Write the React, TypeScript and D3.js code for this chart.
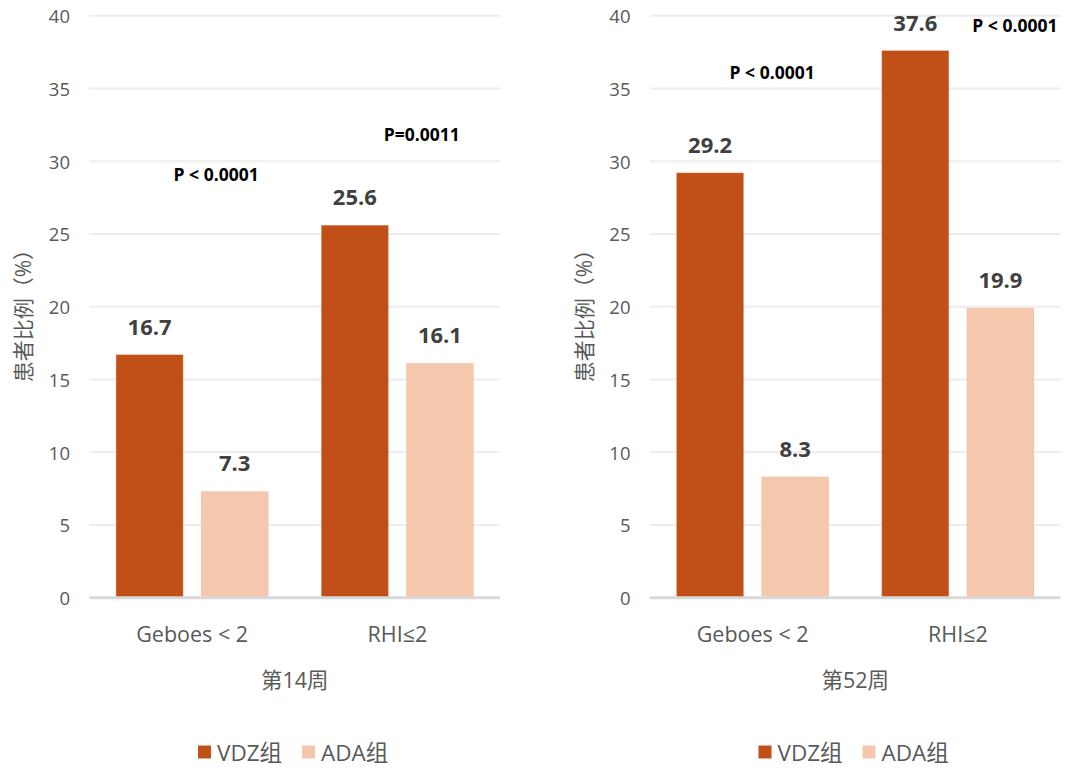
import React from 'react';
import * as d3 from 'd3';

const categories = ['Geboes < 2', 'RHI≤2'];
const seriesNames = ['VDZ组', 'ADA组'];
const seriesColors = ['#C05017', '#F5C7AD'];

const week14VDZ = [16.7, 25.6];
const week14ADA = [7.3, 16.1];
const week52VDZ = [29.2, 37.6];
const week52ADA = [8.3, 19.9];

const week14P = ['P < 0.0001', 'P=0.0011'];
const week52P = ['P < 0.0001', 'P < 0.0001'];
// P label height in data units
const week14PLevel = [29.1, 31.9];
const week52PLevel = [36.15, 39.36];

const yTickCount = 8;

const W = 1080;
const H = 768;
const FONT = '"Open Sans", "Noto Sans CJK SC", sans-serif';

interface PanelProps {
  dx: number;
  title: string;
  vdz: number[];
  ada: number[];
  pText: string[];
  pLevel: number[];
  pShift: number[];
}

const Panel: React.FC<PanelProps> = ({ dx, title, vdz, ada, pText, pLevel, pShift }) => {
  const left = 89.5;
  const right = 500;
  const top = 15.7;
  const bottom = 597.7;

  const y = d3.scaleLinear().domain([0, 40]).range([bottom, top]);
  const x0 = d3.scaleBand().domain(categories).range([left, right]).padding(0);
  const x1 = d3.scaleBand()
    .domain(seriesNames)
    .range([0, x0.bandwidth()])
    .paddingInner(0.212)
    .paddingOuter(0.312);

  const values = [vdz, ada];
  const ticks = y.ticks(yTickCount);

  return (
    <g transform={`translate(${dx},0)`} fontFamily={FONT}>
      {ticks.filter(t => t > 0).map(t => (
        <line key={`g${t}`} x1={left} x2={right} y1={y(t)} y2={y(t)} stroke="#EDEDED" strokeWidth={2} />
      ))}
      {ticks.map(t => (
        <text key={`t${t}`} x={left - 19.5} y={y(t)} textAnchor="end" dominantBaseline="central"
          fontSize={18.5} fill="#595959">{t}</text>
      ))}

      {categories.map((c, ci) => (
        <g key={c}>
          {seriesNames.map((s, si) => {
            const v = values[si][ci];
            const bx = (x0(c) || 0) + (x1(s) || 0);
            return (
              <g key={s}>
                <rect x={bx} y={y(v)} width={x1.bandwidth()} height={y(0) - y(v)}
                  fill={seriesColors[si]} stroke="#F2B79A" strokeOpacity={0.5} strokeWidth={0.6} />
                <text x={bx + x1.bandwidth() / 2} y={y(v) - 29} textAnchor="middle" dominantBaseline="central"
                  fontSize={22} fontWeight="bold" fill="#404040">{v}</text>
              </g>
            );
          })}
          <text x={(x0(c) || 0) + x0.bandwidth() / 2 + pShift[ci]} y={y(pLevel[ci])} textAnchor="middle"
            dominantBaseline="central" fontSize={17.5} fontWeight="bold" fill="#000">{pText[ci]}</text>
          <text x={(x0(c) || 0) + x0.bandwidth() / 2} y={633} textAnchor="middle" dominantBaseline="central"
            fontSize={21.5} fill="#595959">{c}</text>
        </g>
      ))}

      <line x1={left} x2={right} y1={y(0)} y2={y(0)} stroke="#D9D9D9" strokeWidth={3} />

      <text transform={`translate(23,${(top + bottom) / 2 + 4}) rotate(-90)`} textAnchor="middle"
        dominantBaseline="central" fontSize={21} fill="#595959">患者比例（%）</text>

      <text x={(left + right) / 2} y={679} textAnchor="middle" dominantBaseline="central"
        fontSize={21.5} fill="#595959">{title}</text>

      <g transform="translate(198,752)">
        {seriesNames.map((s, si) => (
          <g key={s} transform={`translate(${si * 104},0)`}>
            <rect x={0} y={-6.5} width={13} height={13} fill={seriesColors[si]} />
            <text x={19} y={0} dominantBaseline="central" fontSize={22.5} fill="#595959">{s}</text>
          </g>
        ))}
      </g>
    </g>
  );
};

const App: React.FC = () => (
  <svg width={W} height={H} style={{ position: 'absolute', left: 0, top: 0, background: '#fff' }}>
    <rect width={W} height={H} fill="#fff" />
    <Panel dx={0} title="第14周" vdz={week14VDZ} ada={week14ADA}
      pText={week14P} pLevel={week14PLevel} pShift={[24, 24.5]} />
    <Panel dx={560.5} title="第52周" vdz={week52VDZ} ada={week52ADA}
      pText={week52P} pLevel={week52PLevel} pShift={[19.5, 57]} />
  </svg>
);

export default App;
